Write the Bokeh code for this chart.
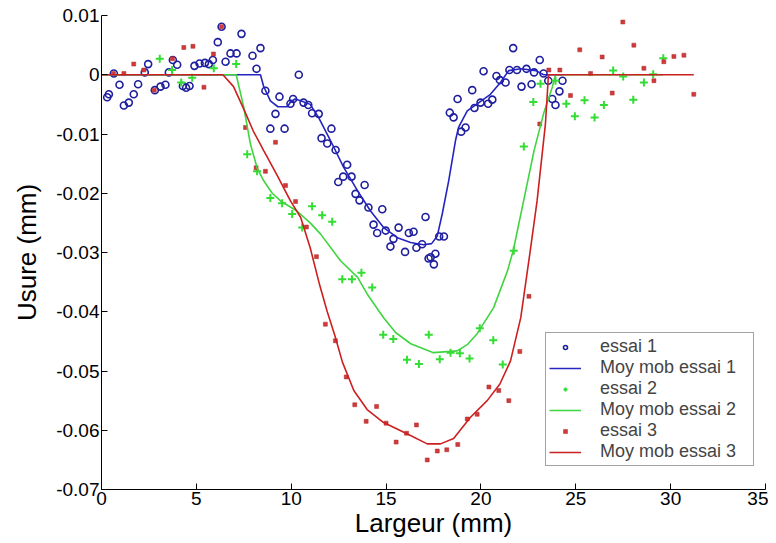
from bokeh.plotting import figure
from bokeh.models import Legend, LegendItem, FixedTicker, CustomJSTickFormatter, Range1d
from bokeh.embed import file_html
from bokeh.resources import INLINE

# ---- data ----
essai1_x = [0.30, 0.39, 0.65, 0.95, 1.18, 1.44, 1.70, 1.93, 2.28, 2.46, 2.81, 3.11, 3.37, 3.55, 3.76, 3.99,
            4.29, 4.46, 4.64, 4.90, 5.17, 5.45, 5.66, 5.87, 6.13, 6.33, 6.54, 6.80, 7.12, 7.38, 7.96, 8.17,
            8.38, 8.64, 8.90, 9.17, 9.38, 9.65, 9.96, 10.10, 10.40, 10.65, 10.90, 11.10, 11.45, 11.60, 11.90,
            12.12, 12.34, 12.48, 12.74, 12.95, 13.18, 13.39, 13.60, 13.87, 14.07, 14.34, 14.53, 14.80, 14.98,
            15.23, 15.39, 15.66, 16.00, 16.20, 16.45, 16.60, 16.90, 17.08, 17.24, 17.35, 17.52, 17.60, 17.80,
            18.05, 18.36, 18.56, 18.77, 18.96, 19.19, 19.54, 19.66, 19.98, 20.14, 20.38, 20.60, 20.82, 21.00,
            21.30, 21.50, 21.70, 21.90, 22.14, 22.40, 22.67, 22.80, 23.10, 23.30, 23.55, 23.76, 23.93, 24.14, 24.30]
essai1_y = [-0.0038, -0.0033, 0.0002, -0.0017, -0.0052, -0.0047, -0.0033, -0.0016, 0.0004, 0.0018, -0.0026,
            -0.0020, -0.0017, 0.0004, 0.0025, 0.0017, -0.0019, -0.0022, -0.0019, 0.0015, 0.0019, 0.0020, 0.0018,
            0.0025, 0.0055, 0.0081, 0.0022, 0.0036, 0.0036, 0.0069, 0.0032, 0.0010, 0.0045, -0.0027, -0.0091,
            -0.0066, -0.0037, -0.0091, -0.0049, -0.0041, 0.0000, -0.0047, -0.0051, -0.0065, -0.0066, -0.0107,
            -0.0116, -0.0091, -0.0127, -0.0181, -0.0172, -0.0152, -0.0172, -0.0201, -0.0212, -0.0186, -0.0224,
            -0.0253, -0.0267, -0.0227, -0.0263, -0.0290, -0.0277, -0.0258, -0.0299, -0.0267, -0.0265, -0.0292,
            -0.0286, -0.0240, -0.0310, -0.0308, -0.0320, -0.0302, -0.0273, -0.0273, -0.0064, -0.0072, -0.0041,
            -0.0096, -0.0089, -0.0026, -0.0056, -0.0047, 0.0006, -0.0049, -0.0042, -0.0002, -0.0009, -0.0013,
            0.0008, 0.0045, 0.0008, -0.0020, 0.0010, -0.0016, 0.0004, 0.0025, 0.0002, -0.0010, -0.0041, -0.0051,
            -0.0028, -0.0010]

moy1_x = [0, 8.38, 8.54, 8.90, 9.30, 9.80, 9.96, 10.20, 10.50, 11.00, 11.44, 12.07, 12.76, 13.50, 14.18, 14.87,
          15.60, 16.29, 16.97, 17.40, 17.70, 17.96, 18.30, 18.66, 18.82, 19.28, 19.80, 20.50, 21.03, 21.46,
          22.10, 22.90, 23.30, 24.30]
moy1_y = [0, 0, -0.0019, -0.0044, -0.0054, -0.0054, -0.0046, -0.0041, -0.0044, -0.0050, -0.0072, -0.0111,
          -0.0156, -0.0196, -0.0230, -0.0258, -0.0275, -0.0283, -0.0287, -0.0285, -0.0272, -0.0235, -0.0179,
          -0.0111, -0.0089, -0.0061, -0.0049, -0.0033, -0.0013, 0.0007, 0.0010, 0.0007, 0.0000, 0.0000]

essai2_x = [3.07, 3.72, 4.20, 4.78, 5.92, 7.10, 7.68, 8.20, 8.90, 9.52, 10.05, 10.58, 11.10, 11.63, 12.16,
            12.69, 13.20, 13.70, 14.27, 14.85, 15.38, 16.10, 16.73, 17.25, 17.83, 18.40, 18.89, 19.40, 19.94,
            20.65, 21.15, 21.73, 22.26, 22.76, 23.14, 23.93, 24.50, 24.95, 25.46, 25.99, 26.48, 26.97, 27.50,
            28.03, 28.59, 29.08, 29.61]
essai2_y = [0.0027, 0.0008, -0.0013, -0.0005, 0.0011, 0.0018, -0.0134, -0.0163, -0.0208, -0.0217, -0.0235,
            -0.0258, -0.0222, -0.0237, -0.0248, -0.0345, -0.0345, -0.0334, -0.0359, -0.0439, -0.0446, -0.0481,
            -0.0488, -0.0439, -0.0480, -0.0469, -0.0470, -0.0479, -0.0428, -0.0448, -0.0489, -0.0297, -0.0121,
            -0.0046, -0.0015, -0.0010, -0.0049, -0.0070, -0.0043, -0.0072, -0.0051, 0.0007, -0.0003, -0.0042,
            -0.0013, 0.0001, 0.0028]

moy2_x = [0, 7.10, 7.50, 7.85, 8.20, 8.55, 9.00, 9.44, 10.30, 11.00, 11.55, 12.60, 13.50, 14.00, 14.87, 15.50,
          16.30, 17.50, 18.75, 19.30, 19.80, 20.67, 21.40, 21.70, 22.25, 22.80, 23.30, 23.76, 23.93, 29.61]
moy2_y = [0, 0, -0.0055, -0.0117, -0.0157, -0.0179, -0.0200, -0.0213, -0.0230, -0.0250, -0.0269, -0.0314,
          -0.0342, -0.0370, -0.0410, -0.0435, -0.0454, -0.0469, -0.0466, -0.0455, -0.0437, -0.0393, -0.0331,
          -0.0297, -0.0213, -0.0128, -0.0066, -0.0021, 0.0000, 0.0000]

essai3_x = [0.63, 1.18, 1.70, 2.23, 2.78, 3.74, 4.34, 4.82, 5.40, 5.90, 6.33, 7.59, 8.15, 8.64, 9.17, 9.70,
            10.23, 10.80, 11.33, 11.80, 12.33, 12.90, 13.35, 13.95, 14.50, 15.00, 15.53, 16.08, 16.60, 17.17,
            17.70, 18.20, 18.78, 19.28, 19.80, 20.42, 20.94, 21.47, 22.05, 22.53, 23.10, 23.58, 24.16, 24.72,
            25.21, 25.78, 26.39, 26.92, 27.48, 28.06, 28.59, 29.12, 29.64, 30.17, 30.70, 31.22]
essai3_y = [0.0002, 0.0002, 0.0018, 0.0008, -0.0026, 0.0027, 0.0046, 0.0048, -0.0021, 0.0035, 0.0081, -0.0089,
            -0.0157, -0.0163, -0.0114, -0.0187, -0.0214, -0.0257, -0.0307, -0.0421, -0.0449, -0.0510, -0.0557,
            -0.0585, -0.0560, -0.0588, -0.0620, -0.0605, -0.0591, -0.0650, -0.0635, -0.0633, -0.0624, -0.0581,
            -0.0573, -0.0527, -0.0533, -0.0550, -0.0467, -0.0374, -0.0083, 0.0008, 0.0008, -0.0035, 0.0042,
            0.0002, 0.0030, -0.0031, 0.0089, 0.0050, 0.0011, -0.0010, 0.0022, 0.0031, 0.0033, -0.0033]

moy3_x = [0, 6.40, 6.96, 7.50, 8.00, 8.55, 9.26, 9.96, 10.50, 11.00, 11.50, 11.90, 12.30, 12.70, 13.30, 14.00,
          14.87, 16.10, 17.17, 17.87, 18.56, 19.45, 20.33, 21.00, 21.56, 22.10, 22.60, 22.96, 23.40, 23.56, 31.22]
moy3_y = [0, 0, -0.0020, -0.0058, -0.0095, -0.0128, -0.0170, -0.0213, -0.0241, -0.0292, -0.0355, -0.0400,
          -0.0440, -0.0485, -0.0533, -0.0565, -0.0587, -0.0606, -0.0623, -0.0623, -0.0614, -0.0578, -0.0550,
          -0.0522, -0.0483, -0.0410, -0.0297, -0.0213, -0.0083, 0.0000, 0.0000]

x_ticks = [0, 5, 10, 15, 20, 25, 30, 35]
y_ticks = [-0.07, -0.06, -0.05, -0.04, -0.03, -0.02, -0.01, 0.0, 0.01]

FONT = "Liberation Sans"

p = figure(width=768, height=543, output_backend="svg", toolbar_location=None,
           x_range=Range1d(0, 35), y_range=Range1d(-0.07, 0.01),
           min_border_left=101, min_border_right=3, min_border_top=15, min_border_bottom=54)
p.outline_line_color = None
p.xgrid.visible = False
p.ygrid.visible = False
p.background_fill_color = "white"

r_e1 = p.scatter(essai1_x, essai1_y, marker="circle", size=7, fill_color=None,
                 line_color="#1f1f9e", line_width=1.6)
r_e2 = p.scatter(essai2_x, essai2_y, marker="cross", size=8, line_color="#33dd33", line_width=2)
r_e3 = p.scatter(essai3_x, essai3_y, marker="square", size=4, fill_color="#d03a3a",
                 line_color="#b02a2a", line_width=0.5)
r_m1 = p.line(moy1_x, moy1_y, line_color="#2424c0", line_width=1.6)
r_m2 = p.line(moy2_x, moy2_y, line_color="#3fd53f", line_width=1.6)
r_m3 = p.line(moy3_x, moy3_y, line_color="#cc2020", line_width=1.6)

for ax in (p.xaxis[0], p.yaxis[0]):
    ax.axis_line_color = "black"
    ax.major_tick_in = 6
    ax.major_tick_out = 0
    ax.minor_tick_line_color = None
    ax.major_label_text_font = FONT
    ax.major_label_text_font_size = "19px"
    ax.major_label_text_color = "black"
    ax.axis_label_text_font = FONT
    ax.axis_label_text_font_size = "26px"
    ax.axis_label_text_font_style = "normal"
    ax.axis_label_text_color = "black"

p.xaxis.ticker = FixedTicker(ticks=x_ticks)
p.yaxis.ticker = FixedTicker(ticks=y_ticks)
p.yaxis.formatter = CustomJSTickFormatter(code="""
    if (Math.abs(tick) < 1e-9) { return '0'; }
    return tick.toFixed(2);
""")
p.xaxis.axis_label = "Largeur (mm)"
p.yaxis.axis_label = "Usure (mm)"
p.xaxis.major_label_standoff = 2
p.yaxis.major_label_standoff = 2
p.xaxis.axis_label_standoff = 0
p.yaxis.axis_label_standoff = 11

legend = Legend(items=[
    LegendItem(label="essai 1", renderers=[r_e1]),
    LegendItem(label="Moy mob essai 1", renderers=[r_m1]),
    LegendItem(label="essai 2", renderers=[r_e2]),
    LegendItem(label="Moy mob essai 2", renderers=[r_m2]),
    LegendItem(label="essai 3", renderers=[r_e3]),
    LegendItem(label="Moy mob essai 3", renderers=[r_m3]),
], location=(444, 23))
legend.label_text_font = FONT
legend.label_text_font_size = "18px"
legend.label_height = 20
legend.label_width = 150
legend.glyph_height = 10
legend.glyph_width = 32
legend.spacing = 0
legend.padding = 3
legend.margin = 0
legend.label_standoff = 19
legend.border_line_color = "#444444"
legend.border_line_width = 1
legend.background_fill_alpha = 1
p.add_layout(legend)

open("out.html", "w").write(file_html(p, INLINE))
